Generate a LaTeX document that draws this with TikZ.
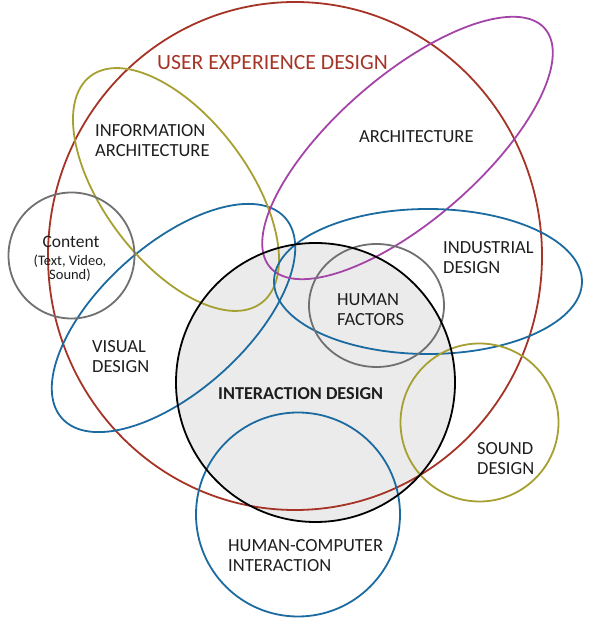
\documentclass[tikz,border=0pt]{standalone}
\usepackage{fontspec}
\setmainfont{Carlito}
\usetikzlibrary{positioning}

\definecolor{uxred}{RGB}{166,52,38}
\definecolor{ringblue}{RGB}{27,106,160}
\definecolor{ringolive}{RGB}{166,160,48}
\definecolor{ringpurple}{RGB}{164,68,168}
\definecolor{ringgray}{RGB}{112,112,112}
\definecolor{ixdfill}{RGB}{235,235,235}
\definecolor{labeltext}{RGB}{30,30,30}

\tikzset{
  ring/.style={line width=1.8pt},
  lbl/.style={anchor=north west, inner sep=0pt, align=left, text=labeltext,
    font=\fontsize{18.5}{20}\selectfont},
}

\begin{document}
\begin{tikzpicture}[x=1pt,y=1pt]
\useasboundingbox (0,0) rectangle (600,618);

% interaction design area
\fill[color=ixdfill] (315.5,235.5) circle (139.5);

% user experience design
\draw[ring,color=uxred] (295,362) ellipse [x radius=247, y radius=254];

\draw[ring,color=ringblue] [rotate around={42:(173.5,300)}] (173.5,300) ellipse [x radius=150, y radius=73];
\draw[ring,color=ringolive] [rotate around={-53:(176,428.5)}] (176,428.5) ellipse [x radius=142, y radius=72];
\draw[ring,color=ringpurple] [rotate around={41:(407.5,470)}] (407.5,470) ellipse [x radius=182, y radius=72];
\draw[ring,color=ringblue] (428,336.5) ellipse [x radius=154, y radius=72.5];

\draw[ring,color=ringgray] (376.5,312.5) ellipse [x radius=67.5, y radius=61.5];
\draw[ring,color=ringgray] (71.5,362.5) circle (63);
\draw[ring,color=ringolive] (479.5,195.5) circle (79);
\draw[ring,color=ringblue] (298,103.5) circle (102);
\draw[ring,color=black] (315.5,235.5) circle (139.5);

% labels
\node[lbl,text=uxred,font=\fontsize{21.7}{24}\selectfont] (uxd) at (157,563) {USER EXPERIENCE DESIGN};
\node[lbl] (infoarch) at (95,494) {INFORMATION\\ARCHITECTURE};
\node[lbl] (arch) at (359,488) {ARCHITECTURE};
\node[lbl] (industrial) at (443,377) {INDUSTRIAL\\DESIGN};
\node[lbl] (humfac) at (337,325) {HUMAN\\FACTORS};
\node[lbl] (visual) at (92,278) {VISUAL\\DESIGN};
\node[lbl,font=\fontsize{18.2}{20}\bfseries] (ixd) at (218,231) {INTERACTION DESIGN};
\node[lbl] (sound) at (477,176) {SOUND\\DESIGN};
\node[lbl] (hci) at (228,79) {HUMAN-COMPUTER\\INTERACTION};

\node[lbl,anchor=north,align=center,font=\fontsize{17.5}{20}\selectfont] (content) at (71,382) {Content};
\node[lbl,anchor=north,align=center,font=\fontsize{14.5}{14}\selectfont] (contentsub) at (70,363) {(Text, Video,\\Sound)};
\end{tikzpicture}
\end{document}
